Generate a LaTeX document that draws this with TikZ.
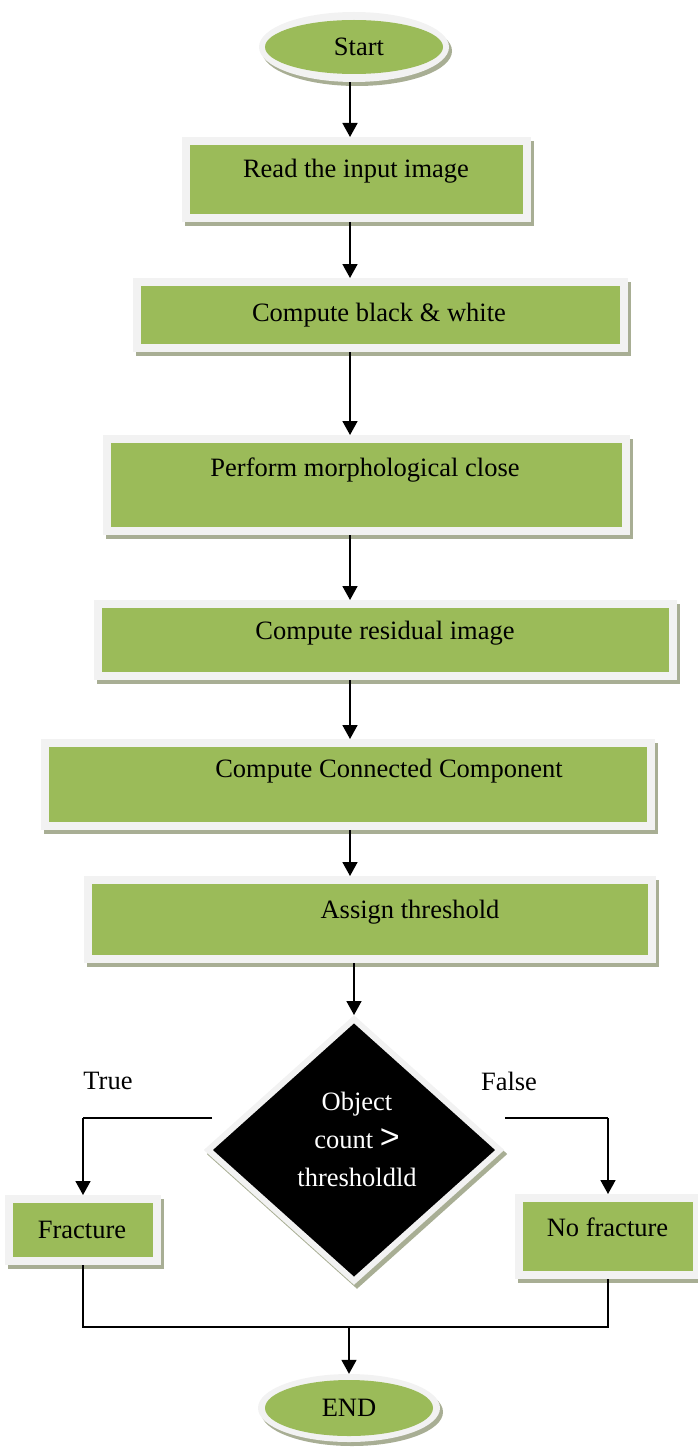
\documentclass[tikz,border=0pt]{standalone}
\usepackage{fontspec}
\setmainfont{Liberation Serif}
\newfontfamily\symfont{Liberation Sans}
\usetikzlibrary{shapes.geometric,arrows.meta,calc}

\definecolor{boxgreen}{HTML}{9BBB59}
\definecolor{rim}{HTML}{F2F2F2}
\definecolor{shade}{HTML}{A8AE94}

\tikzset{
  lbl/.style={font=\fontsize{26.5}{32}\selectfont, inner sep=0pt},
  castshadow/.style={preaction={draw=shade, fill=shade, line width=8pt,
      transform canvas={shift={(3pt,-4pt)}}}},
  stepbox/.style={rectangle, fill=boxgreen, draw=rim, line width=8pt,
      inner sep=0pt, castshadow},
  terminal/.style 2 args={ellipse, fill=rim, inner sep=0pt, lbl,
      preaction={fill=shade, transform canvas={shift={(3pt,-4pt)}}},
      path picture={\fill[boxgreen] (path picture bounding box.center)
        ellipse [x radius=#1, y radius=#2];}},
  decision/.style={diamond, fill=black, draw=rim, line width=6pt,
      inner sep=0pt, preaction={draw=shade, fill=shade, line width=6pt,
      transform canvas={shift={(3pt,-4pt)}}}},
  flow/.style={line width=1.7pt, -{Triangle[width=15pt,length=14pt]}},
  link/.style={line width=1.7pt},
}

\begin{document}
\begin{tikzpicture}[x=1pt, y=-1pt]
\useasboundingbox (0,0) rectangle (697,1447);

% terminals
\node[terminal={89pt}{27pt}, minimum width=190pt, minimum height=70pt] (start) at (354,47) {\hspace*{10pt}Start};
\node[terminal={84pt}{28pt}, minimum width=182pt, minimum height=68pt] (end) at (349,1408) {END};

% process boxes
\node[stepbox, minimum width=341pt, minimum height=77pt] (b1) at (356.5,179.5) {};
\node[lbl] (t1) at (356,171) {Read the input image};

\node[stepbox, minimum width=487pt, minimum height=66pt] (b2) at (380,315) {};
\node[lbl] (t2) at (379,315) {Compute black \& white};

\node[stepbox, minimum width=519pt, minimum height=92pt] (b3) at (366.5,485) {};
\node[lbl] (t3) at (365,470) {Perform morphological close};

\node[stepbox, minimum width=575pt, minimum height=72pt] (b4) at (385,640) {};
\node[lbl] (t4) at (385,633) {Compute residual image};

\node[stepbox, minimum width=606pt, minimum height=83pt] (b5) at (348,784.5) {};
\node[lbl] (t5) at (389,771) {Compute Connected Component};

\node[stepbox, minimum width=564pt, minimum height=79pt] (b6) at (370,919.5) {};
\node[lbl] (t6) at (410,912) {Assign threshold};

% decision
\node[decision, minimum width=294pt, minimum height=264pt] (q) at (354,1150) {};
\node[lbl, text=white, align=center, font=\fontsize{26.5}{38}\selectfont] (qt) at (357,1139)
  {Object\\count {\symfont\fontsize{34}{34}\selectfont >}\\thresholdld};

% outcomes
\node[stepbox, minimum width=148pt, minimum height=62pt] (fr) at (83,1230) {};
\node[lbl] (tfr) at (82,1230) {Fracture};
\node[stepbox, minimum width=178pt, minimum height=77pt] (nf) at (608,1236.5) {};
\node[lbl] (tnf) at (607.5,1227) {No fracture};

% branch labels
\node[lbl] (yes) at (108,1081) {True};
\node[lbl] (no) at (509,1081) {False};

% connectors
\coordinate (sp) at (350,0);
\draw[flow] (start.south -| sp) -- (b1.north -| sp);
\draw[flow] (b1.south -| sp) -- (b2.north -| sp);
\draw[flow] (b2.south -| sp) -- (b3.north -| sp);
\draw[flow] (b3.south -| sp) -- (b4.north -| sp);
\draw[flow] (b4.south -| sp) -- (b5.north -| sp);
\draw[flow] (b5.south -| sp) -- (b6.north -| sp);
\draw[flow] (b6.south -| q.north) -- (q.north);

\coordinate (lt) at (212,1118);
\coordinate (rt) at (505,1118);
\draw[link] (lt) -- (lt -| fr.north);
\draw[flow] (lt -| fr.north) -- (fr.north);
\draw[link] (rt) -- (rt -| nf.north);
\draw[flow] (rt -| nf.north) -- (nf.north);

\coordinate (j) at (349,1327);
\draw[link] (fr.south) -- (fr.south |- j) -- (nf.south |- j) -- (nf.south);
\draw[flow] (j) -- (end.north);
\end{tikzpicture}
\end{document}
